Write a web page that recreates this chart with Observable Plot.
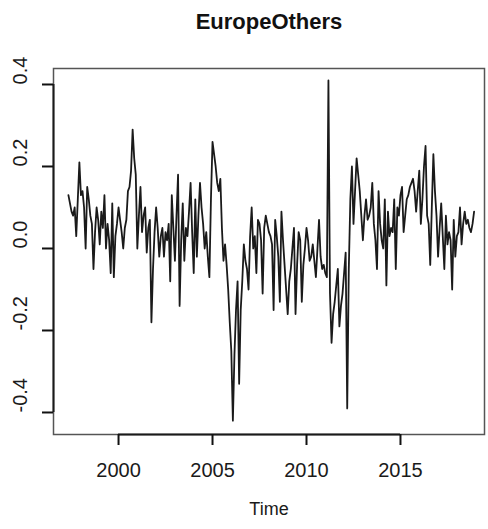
<!DOCTYPE html>
<html>
<head>
<meta charset="utf-8">
<script src="https://cdn.jsdelivr.net/npm/d3@7"></script>
<script src="https://cdn.jsdelivr.net/npm/@observablehq/plot@0.6"></script>
<style>
  html, body { margin: 0; padding: 0; background: #fff; }
  #wrap { width: 488px; height: 529px; overflow: hidden; font-family: "Liberation Sans", Arial, Helvetica, sans-serif; }
  #title { width: 488px; height: 44px; line-height: 44px; box-sizing: border-box; padding-left: 50px; text-align: center; font-weight: bold; font-size: 22px; color: #111; }
</style>
</head>
<body>
<div id="wrap">
  <div id="title"></div>
  <div id="chart"></div>
</div>
<script>
const chartTitle = "EuropeOthers";
const xLabel = "Time";
const startYear = 1997;
const startMonth = 5;
// monthly values, May 1997 - Dec 2018
const values = [
  0.13,0.11,0.09,0.08,0.10,0.03,0.12,0.21,0.13,0.14,0.10,0.00,
  0.15,0.12,0.08,0.06,-0.05,0.04,0.10,0.07,0.01,0.09,0.05,0.13,
  0.00,0.06,0.02,-0.06,0.11,-0.07,0.03,0.06,0.10,0.07,0.04,0.00,
  0.05,0.07,0.14,0.15,0.19,0.29,0.22,0.18,0.00,0.08,0.15,0.04,
  0.08,0.10,-0.01,0.05,0.07,-0.18,-0.05,0.04,0.10,0.05,-0.02,0.03,
  0.05,-0.02,0.04,0.02,0.06,-0.08,0.13,0.05,-0.03,0.08,0.18,-0.14,
  0.02,0.11,-0.03,0.05,0.03,0.09,0.16,0.04,-0.06,0.12,-0.02,0.08,
  0.16,0.10,0.06,0.00,0.04,-0.02,-0.07,0.12,0.26,0.23,0.20,0.16,
  0.14,0.17,0.05,-0.03,0.01,-0.04,-0.10,-0.18,-0.25,-0.42,-0.26,-0.15,
  -0.08,-0.33,-0.15,-0.08,0.01,-0.03,-0.05,-0.10,0.03,0.10,0.00,0.03,
  -0.06,0.07,0.06,0.02,-0.11,0.05,0.08,0.06,0.04,0.03,0.01,-0.15,
  0.07,0.03,-0.02,-0.13,0.09,0.02,-0.04,-0.10,-0.16,-0.08,-0.05,0.00,
  0.05,-0.16,-0.04,0.04,0.02,-0.13,-0.04,0.00,0.05,0.02,-0.03,-0.02,
  0.01,-0.03,-0.07,0.00,0.07,-0.02,-0.05,-0.04,-0.06,-0.07,0.41,-0.11,
  -0.23,-0.16,-0.13,-0.09,-0.05,-0.19,-0.14,-0.11,-0.06,-0.01,-0.39,-0.05,
  0.12,0.20,0.06,0.14,0.22,0.18,0.14,0.08,0.02,0.08,0.12,0.07,
  0.08,0.10,0.16,0.06,0.02,-0.05,0.14,0.06,0.02,0.00,0.12,-0.09,
  0.09,0.03,0.05,0.04,0.12,-0.05,0.10,0.08,0.13,0.15,0.04,0.08,
  0.12,0.13,0.15,0.16,0.17,0.14,0.09,0.14,0.19,0.06,0.12,0.20,
  0.25,0.08,0.06,-0.04,0.10,0.23,0.14,0.08,-0.02,0.05,0.11,0.03,
  -0.05,0.08,0.01,0.04,0.02,-0.10,0.07,-0.02,0.03,0.04,0.10,0.01,
  0.06,0.09,0.06,0.07,0.05,0.04,0.06,0.09
];
const xTicks = [2000, 2005, 2010, 2015];
const yTicks = [-0.4, -0.2, 0.0, 0.2, 0.4];

const data = values.map((v, i) => ({t: startYear + (startMonth - 1 + i) / 12, v}));

const xDomain = [1996.54, 2019.47];
const yDomain = [-0.4537, 0.439];

document.getElementById("title").textContent = chartTitle;

const chart = Plot.plot({
  width: 488,
  height: 485,
  marginTop: 24,
  marginBottom: 95,
  marginLeft: 53,
  marginRight: 4,
  x: {domain: xDomain, axis: null},
  y: {domain: yDomain, axis: null},
  style: {fontFamily: "'Liberation Sans', Arial, Helvetica, sans-serif", fontSize: "20px", color: "#1a1a1a", background: "white"},
  marks: [
    Plot.frame({stroke: "#555", strokeWidth: 1.5}),
    Plot.ruleY([yDomain[0]], {x1: xTicks[0], x2: xTicks[xTicks.length - 1], stroke: "#1a1a1a", strokeWidth: 2}),
    Plot.ruleX([xDomain[0]], {y1: yTicks[0], y2: yTicks[yTicks.length - 1], stroke: "#1a1a1a", strokeWidth: 2}),
    Plot.axisX(xTicks, {tickSize: 11, tickPadding: 17, tickFormat: d => String(d), fontSize: 20, label: null, stroke: "#111", strokeWidth: 2, fill: "#1a1a1a"}),
    Plot.axisY(yTicks, {tickSize: 11, tickFormat: () => "", label: null, stroke: "#111", strokeWidth: 2}),
    Plot.text(yTicks, {y: d => d, text: d => d.toFixed(1), frameAnchor: "left", dx: -33, rotate: -90, fontSize: 20, fill: "#1a1a1a"}),
    Plot.text([xLabel], {frameAnchor: "bottom", dy: 80, fontSize: 18, fill: "#1a1a1a"}),
    Plot.line(data, {x: "t", y: "v", stroke: "#1a1a1a", strokeWidth: 1.8})
  ]
});
document.getElementById("chart").appendChild(chart);
</script>
</body>
</html>
